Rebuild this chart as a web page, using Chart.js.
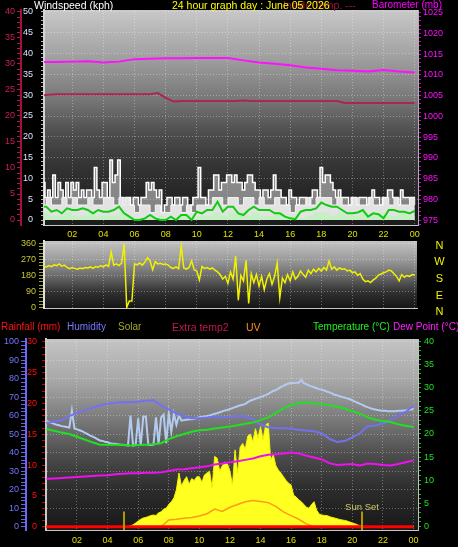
<!DOCTYPE html>
<html>
<head>
<meta charset="utf-8">
<script src="https://cdn.jsdelivr.net/npm/chart.js@4.4.0/dist/chart.umd.min.js"></script>
<style>
html,body{margin:0;padding:0;background:#000;overflow:hidden}
#wrap{position:relative;width:458px;height:547px;background:#000;overflow:hidden;font-family:'Liberation Sans',Arial,sans-serif}
canvas{position:absolute;left:0}
.t{position:absolute;white-space:nowrap;line-height:12px}
.d{position:absolute;left:431px;width:17px;text-align:center;font-size:11px;line-height:12px;color:#f0f000}
</style>
</head>
<body>
<div id="wrap">
<canvas id="c1" width="458" height="240" style="top:0"></canvas>
<canvas id="c2" width="458" height="78" style="top:236px"></canvas>
<canvas id="c3" width="458" height="217" style="top:330px"></canvas>

<div class="t" style="left:34px;top:-1px;font-size:10.5px;color:#ffffff">Windspeed (kph)</div>
<div class="t" style="left:283px;top:-1px;font-size:10.5px;color:#a01838">Inside Temp. ---</div>
<div class="t" style="left:172px;top:-1px;font-size:10.5px;color:#ffff00">24 hour graph day : June 05 2026</div>
<div class="t" style="left:372px;top:-1px;font-size:10px;color:#ff00ff">Barometer (mb)</div>

<div class="d" style="top:238.6px">N</div>
<div class="d" style="top:255.1px">W</div>
<div class="d" style="top:272.1px">S</div>
<div class="d" style="top:289.1px">E</div>
<div class="d" style="top:305.1px">N</div>

<div class="t" style="left:1px;top:320.5px;font-size:10px;color:#ff1010">Rainfall (mm)</div>
<div class="t" style="left:67px;top:320.5px;font-size:10px;color:#7878ff">Humidity</div>
<div class="t" style="left:118px;top:320.5px;font-size:10px;color:#a8a828">Solar</div>
<div class="t" style="left:172px;top:320.5px;font-size:10.5px;color:#c01850">Extra temp2</div>
<div class="t" style="left:246px;top:320.5px;font-size:10.5px;color:#ff8a20">UV</div>
<div class="t" style="left:313px;top:320.5px;font-size:10px;color:#20f020">Temperature (°C)</div>
<div class="t" style="left:393px;top:320.5px;font-size:10px;color:#ff20ff">Dew Point (°C)</div>
</div>

<script>
// ---------------- DATA ----------------
const hourTickLabels = ['02','04','06','08','10','12','14','16','18','20','22','00'];

// Panel 1 – wind (kph) / barometer (mb) / maroon temperature
// gusts, every 10 minutes
const windGust = [
  9,9,5.4,7.2,5.4,10.8,5.4,9,7.2,5.4,
  9,5.4,9,7.2,9,5.4,7.2,5.4,7.2,7.2,
  5.4,12.6,7.2,5.4,9,9,5.4,14.4,9,10.8,
  14.4,5.4,3.6,5.4,5.4,3.6,5.4,5.4,3.6,5.4,
  5.4,9,7.2,9,7.2,5.4,7.2,1.8,3.6,5.4,
  5.4,3.6,5.4,5.4,3.6,5.4,5.4,1.8,3.6,5.4,
  5.4,12.6,5.4,5.4,3.6,7.2,7.2,10.8,10.8,7.2,
  9,9,10.8,10.8,9,10.8,9,9,7.2,9,
  10.8,10.8,9,7.2,7.2,5.4,7.2,7.2,5.4,7.2,
  10.8,7.2,7.2,5.4,5.4,3.6,7.2,5.4,5.4,3.6,
  5.4,5.4,5.4,3.6,5.4,7.2,7.2,5.4,12.6,9,
  10.8,10.8,9,7.2,5.4,7.2,5.4,5.4,5.4,3.6,
  5.4,5.4,3.6,5.4,5.4,5.4,3.6,5.4,7.2,5.4,
  5.4,3.6,5.4,5.4,7.2,7.2,5.4,5.4,3.6,7.2,
  5.4,5.4,5.4,5.4,5.4
];
// wind speed, every 20 minutes
const windSpeed = [
  3.6,5.4,3.6,3.6,5.4,3.6,5.4,3.6,3.6,5.4,
  3.6,3.6,5.4,5.4,3.6,5.4,5.4,3.6,1.8,3.6,
  3.6,1.8,3.6,1.8,1.8,3.6,3.6,1.8,3.6,1.8,
  3.6,3.6,3.6,5.4,
  5.4,3.6,5.4,5.4,3.6,5.4,5.4,3.6,5.4,3.6,
  3.6,5.4,3.6,3.6,1.8,3.6,3.6,5.4,3.6,5.4,
  5.4,5.4,3.6,5.4,3.6,3.6,5.4,3.6,3.6,5.4,
  3.6,3.6,5.4,3.6,5.4,3.6,3.6,5.4,3.6
];
// average wind line (green), every 20 minutes
const windAverage = [
  3.2,3.2,2.0,2.4,1.6,2.8,2.4,2.4,2.8,2.4,
  1.6,2.4,2.0,2.0,2.4,3.2,1.6,0.8,0,0,
  0.4,1.2,0.4,0,0,0.8,0,1.2,1.2,0,
  2.0,1.6,2.4,2.4,4.4,2.0,3.2,3.2,1.6,1.2,
  2.4,3.2,2.4,2.4,2.4,1.6,1.6,0.8,0.4,0.2,
  2.0,2.4,2.4,2.8,4.2,3.6,3.2,3.2,2.4,1.6,
  1.6,1.8,2.4,0.8,1.6,1.4,0.4,2.4,2.4,2.0,
  2.0,1.6,2.2
];
// light green band (lull), every 30 minutes
const windLull = [
  1.8,1.0,1.0,1.8,1.0,1.0,1.8,1.0,1.0,1.0,
  1.8,1.0,0.5,0.5,0.5,1.0,0.5,0.5,1.0,0.5,
  1.0,1.0,1.8,1.0,1.8,1.8,1.0,1.8,1.0,1.0,
  1.8,1.0,1.0,0.5,1.0,1.8,1.8,1.0,1.8,1.0,
  1.0,1.8,1.0,1.8,1.0,1.0,1.8,1.0,1.0
];
// barometer, hourly
const barometer = [
  1013.1,1013.1,1013.2,1013.3,1013.0,1013.2,1013.8,1013.9,1014.0,1014.0,
  1014.1,1014.1,1014.1,1013.5,1013.0,1012.7,1012.3,1011.8,1011.5,1011.1,
  1011.0,1010.8,1011.2,1010.8,1010.6
];
// maroon temperature, every 30 minutes
const insideTemp = [
  23.9,24.1,24.2,24.2,24.2,24.2,24.2,24.2,24.2,24.2,
  24.2,24.2,24.2,24.2,24.2,24.4,23.5,22.8,22.9,22.9,
  22.9,22.9,22.9,22.9,22.9,22.9,23.0,22.9,22.9,22.9,
  22.9,22.9,22.9,22.9,22.9,22.9,22.9,22.9,22.9,22.5,
  22.5,22.5,22.5,22.5,22.5,22.5,22.5,22.5,22.5
];

// Panel 2 – wind direction (degrees), every 10 minutes
const windDirection = [
  225,232,228,236,230,240,235,245,232,238,
  225,218,225,220,215,222,218,225,222,228,
  220,230,226,235,228,240,232,312,238,245,
  236,250,358,0,36,36,245,240,250,238,
  255,280,262,212,258,245,248,242,245,238,
  225,220,228,218,345,222,215,225,262,212,
  205,155,230,220,225,215,222,210,200,185,
  160,175,135,200,160,290,40,180,150,265,
  22,190,140,185,120,175,100,160,190,130,
  175,250,55,165,140,185,150,200,160,175,
  205,185,170,210,190,215,200,220,205,225,
  210,262,215,228,210,222,215,218,205,210,
  195,200,180,190,160,145,150,140,155,165,
  182,188,195,200,210,205,190,175,150,185,
  170,180,175,185,182
];

// Panel 3
const humidity = [ // %, every 30 minutes
  56,56.8,57.5,59.8,61.5,63,64.3,65.5,66.4,67,
  67.2,67.2,67.5,68.1,68.3,65.5,63.4,61.3,59.6,58.6,
  58.6,59,59.5,59.2,59.4,59.8,59.6,58,55.3,53.8,
  53.2,53.3,53,52.4,52,51.6,50.5,47.5,45.8,46.3,
  48.3,50.5,54.3,54.7,55.8,57.9,60,62,65.5
];
const temperature = [ // °C, every 30 minutes
  21.1,20.7,20.3,20.0,19.4,18.8,18.2,17.7,17.7,17.7,
  17.6,17.5,17.6,17.7,17.8,18.0,18.9,19.5,20.0,20.5,
  20.8,20.9,21.2,21.4,21.6,21.9,22.2,22.5,23.0,23.6,
  24.5,25.6,26.2,26.7,26.8,26.6,26.5,26.2,25.9,25.5,
  24.9,24.4,23.6,23.1,22.8,22.6,22.1,21.8,21.5
];
const dewPoint = [ // °C, every 30 minutes
  10.3,10.4,10.5,10.6,10.7,10.8,10.9,11.0,11.1,11.3,
  11.4,11.5,11.5,11.6,11.6,11.7,12.0,12.3,12.4,12.6,
  12.8,13.0,13.4,13.6,13.9,14.1,14.4,14.7,15.2,15.5,
  15.6,15.8,16.0,15.8,15.3,14.9,14.5,13.7,13.3,13.4,
  13.5,13.2,13.6,13.5,13.3,13.2,13.5,13.9,14.3
];
const extraTemp1 = [ // °C (light blue), every 10 minutes
  22.8,22.6,22.4,22.2,22.0,21.9,21.7,21.6,21.5,21.4,
  25.1,21.2,21.0,20.8,20.6,20.3,20.0,19.7,19.5,19.2,
  18.9,18.6,18.5,18.3,18.2,18.0,17.9,17.9,17.8,17.7,
  17.7,17.6,17.5,24.0,17.5,17.6,23.4,17.5,23.8,23.8,
  17.6,17.6,17.7,23.6,17.8,23.6,24.2,18.0,24.4,20.5,
  24.4,22.0,24.0,22.9,23.0,23.1,23.2,23.2,23.3,23.4,
  23.6,23.7,23.8,23.9,24.0,24.2,24.4,24.5,24.7,24.9,
  25.1,25.2,25.4,25.6,25.8,26.0,26.2,26.3,26.5,26.9,
  27.2,27.4,27.6,27.8,28.0,28.2,28.4,28.7,29.0,29.3,
  29.5,29.8,30.2,30.4,30.7,30.9,31.0,31.0,31.1,31.1,
  31.7,31.0,30.8,30.5,30.3,30.1,29.9,29.7,29.6,29.4,
  29.2,29.0,28.8,28.5,28.4,28.2,28.0,27.9,27.7,27.5,
  27.3,27.0,26.8,26.5,26.3,26.0,25.8,25.6,25.4,25.3,
  25.2,25.1,25.0,25.0,24.9,24.9,24.9,24.9,25.0,25.0,
  25.1,25.1,25.2,25.3,25.4
];
const solar = [ // relative scale, every 10 minutes
  0,0,0,0,0,0,0,0,0,0,
  0,0,0,0,0,0,0,0,0,0,
  0,0,0,0,0,0,0,0,0,0,
  0,0,0,0.5,1,2,3,4,4.7,5,
  5.5,6,6.3,6,7.5,8,9.5,10,12,13.5,
  15.5,20,29,22,25,27,23,26,25,27,
  27,24,28,29,30,21,38,37,30,33,
  35,34,30,22.5,41.5,29,43,45,42,49,
  50,46,53,48,54,47,55,56,36,39,
  33,30.6,29,27,25,23.5,22.5,17,16,14.5,
  13.5,12,10.5,10,12,13.5,9,6.8,6.3,6.1,
  6,5.5,5,4.7,4.3,3.9,3.6,3.4,3,2.5,
  2,1.6,1,0.5,0,0,0,0,0,0,
  0,0,0,0,0,0,0,0,0,0,
  0,0,0,0,0
];
const uv = [ // relative scale, every 30 minutes
  0,0,0,0,0,0,0,0,0,0,0,0,0,0,0,0,
  3.6,4.0,4.5,5.0,5.8,7.0,9.5,8.2,10.5,12,13.5,14.2,13.6,13,11,8,6,4,1.5,0,
  0,0,0,0,0,0,0,0,0,0,0,0,0
];
const rainfall = [0,0,0,0,0,0,0,0,0,0,0,0,0,0,0,0,0,0,0,0,0,0,0,0,0]; // mm, hourly
const sunriseHour = 5.09;
const sunsetHour = 20.65;

// ---------------- HELPERS ----------------
Chart.defaults.font.family = "'Liberation Sans', Arial, sans-serif";
Chart.defaults.font.size = 9;
Chart.defaults.animation = false;
Chart.defaults.responsive = false;
Chart.defaults.events = [];
Chart.defaults.plugins.legend.display = false;
Chart.defaults.plugins.tooltip.enabled = false;
Chart.defaults.elements.point.radius = 0;
Chart.defaults.elements.line.tension = 0;

function pts(values, step) { return values.map((v, i) => ({x: i * step, y: v})); }
function box(w, h) {
  return function (s) {
    if (w !== null) s.width = w;
    if (h !== null) s.height = h;
    s.paddingLeft = 0; s.paddingRight = 0; s.paddingTop = 0; s.paddingBottom = 0;
  };
}
const GRID = 'rgba(255,255,255,0.33)';
const NONE = 'rgba(0,0,0,0)';
const isMajor = (v, step) => Math.abs(v / step - Math.round(v / step)) < 1e-6;
const majorGrid = step => ctx => (ctx.tick && isMajor(ctx.tick.value, step) && ctx.tick.value !== 0) ? GRID : NONE;
const majorLabel = step => v => isMajor(v, step) ? String(Math.round(v)) : '';

function xAxis(min, max, show, h, pad) {
  return {
    type: 'linear', position: 'bottom', min: min, max: max,
    ticks: {display: show, stepSize: 2, includeBounds: false, autoSkip: false, maxRotation: 0,
      color: '#e0e000', padding: pad, callback: v => hourTickLabels[Math.round(v / 2) - 1] || ''},
    grid: {color: GRID, drawTicks: false},
    border: {color: '#c8c8c8', width: 1, dash: [1, 2]},
    afterFit: box(null, h)
  };
}
function yAxis(o) {
  return {
    type: 'linear', position: o.pos, weight: o.weight || 0, min: o.min, max: o.max,
    ticks: {stepSize: o.step, includeBounds: false, autoSkip: false, color: o.color, padding: o.pad,
      callback: majorLabel(o.major)},
    grid: {drawOnChartArea: !!o.grid, color: o.grid ? majorGrid(o.major) : NONE,
      tickColor: o.tickColor, tickLength: o.tl},
    border: {color: o.border, width: o.bw, dash: [1, 2]},
    afterFit: box(o.w, null)
  };
}

const areaBg = {
  id: 'areaBg',
  beforeDraw(chart, args, opts) {
    const {ctx, chartArea: a} = chart;
    const g = ctx.createLinearGradient(0, a.top, 0, a.bottom);
    opts.stops.forEach(s => g.addColorStop(s[0], s[1]));
    ctx.save();
    ctx.fillStyle = g;
    ctx.fillRect(a.left, a.top, a.right - a.left, a.bottom - a.top);
    ctx.restore();
  }
};
const sunMarks = {
  id: 'sunMarks',
  afterDatasetsDraw(chart, args, opts) {
    const {ctx, chartArea: a, scales} = chart;
    ctx.save();
    opts.events.forEach(ev => {
      const px = Math.round(scales.x.getPixelForValue(ev.hour));
      ctx.strokeStyle = opts.lineColor;
      ctx.lineWidth = 2;
      ctx.beginPath();
      ctx.moveTo(px, a.bottom);
      ctx.lineTo(px, a.bottom - opts.lineLength);
      ctx.stroke();
      if (ev.label) {
        ctx.fillStyle = opts.textColor;
        ctx.font = opts.font;
        ctx.textAlign = 'center';
        ctx.textBaseline = 'alphabetic';
        ctx.fillText(ev.label, px, a.bottom - opts.lineLength - 2);
      }
    });
    ctx.restore();
  }
};

// ---------------- PANEL 1 ----------------
new Chart(document.getElementById('c1'), {
  type: 'line',
  data: {datasets: [
    {data: pts(windAverage, 1/3), yAxisID: 'yWind', borderColor: '#10cc10', borderWidth: 2, order: 1},
    {data: pts(windLull, 0.5), yAxisID: 'yWind', borderWidth: 0, borderColor: NONE, backgroundColor: '#c4f0c4', fill: 'origin', stepped: true, order: 2},
    {data: pts(windSpeed, 1/3), yAxisID: 'yWind', borderWidth: 1, borderColor: '#f4f4f4', backgroundColor: 'rgba(236,236,236,0.92)', fill: 'origin', stepped: true, order: 3},
    {data: pts(windGust, 1/6), yAxisID: 'yWind', borderWidth: 1.5, borderColor: '#ffffff', backgroundColor: 'rgba(215,215,215,0.55)', fill: 'origin', stepped: 'middle', order: 4},
    {data: pts(barometer, 1), yAxisID: 'yBaro', borderWidth: 2, borderColor: '#ff10ff', order: 5},
    {data: pts(insideTemp, 0.5), yAxisID: 'yIn', borderWidth: 2, borderColor: '#a82850', order: 6}
  ]},
  options: {
    layout: {padding: {top: 10, left: 0, right: 0, bottom: 0}},
    scales: {
      x: xAxis(0.186, 24.21, true, 15, 4),
      yIn: yAxis({pos: 'left', weight: 10, min: -0.96, max: 40.38, step: 1, major: 5, color: '#c8204e', pad: 2,
        tickColor: '#b01848', tl: 4, border: '#a01040', bw: 2, w: 21}),
      yWind: yAxis({pos: 'left', weight: 0, min: -1.2, max: 50.48, step: 1, major: 5, color: '#d8e4ff', pad: 8,
        tickColor: 'rgba(230,230,230,0.8)', tl: 3, border: '#d4d4d4', bw: 2, w: 23, grid: true}),
      yBaro: yAxis({pos: 'right', min: 973.8, max: 1025.65, step: 1, major: 5, color: '#ff10ff', pad: 2,
        tickColor: '#d000d0', tl: 3, border: '#b0b0b0', bw: 1, w: 40})
    },
    plugins: {areaBg: {stops: [[0, '#c8c8c8'], [0.21, '#a2a2a2'], [0.42, '#767676'], [0.56, '#505050'], [0.72, '#343434'], [0.88, '#232323'], [1, '#1c1c1c']]}}
  },
  plugins: [areaBg]
});

// ---------------- PANEL 2 ----------------
new Chart(document.getElementById('c2'), {
  type: 'line',
  data: {datasets: [
    {data: pts(windDirection, 1/6), yAxisID: 'yDir', borderWidth: 1.5, borderColor: '#f0f000'}
  ]},
  options: {
    layout: {padding: {top: 5, left: 0, right: 41, bottom: 5.5}},
    scales: {
      x: xAxis(0.186, 24.147, false, 0, 0),
      yDir: yAxis({pos: 'left', min: -6, max: 374, step: 18, major: 90, color: '#c8c832', pad: 3,
        tickColor: '#a0a020', tl: 5, border: '#e0e0e0', bw: 2, w: 44, grid: true})
    },
    plugins: {areaBg: {stops: [[0, '#c4c4c4'], [0.28, '#9a9a9a'], [0.52, '#6a6a6a'], [0.76, '#303030'], [1, '#141414']]}}
  },
  plugins: [areaBg]
});

// ---------------- PANEL 3 ----------------
new Chart(document.getElementById('c3'), {
  type: 'line',
  data: {datasets: [
    {data: pts(rainfall, 1), yAxisID: 'yRain', borderWidth: 3, borderColor: '#ff0000', order: 1},
    {data: pts(dewPoint, 0.5), yAxisID: 'yTemp', borderWidth: 2, borderColor: '#f010f0', order: 2},
    {data: pts(temperature, 0.5), yAxisID: 'yTemp', borderWidth: 2, borderColor: '#20e020', order: 3},
    {data: pts(humidity, 0.5), yAxisID: 'yHum', borderWidth: 2, borderColor: '#7272f0', order: 4},
    {data: pts(extraTemp1, 1/6), yAxisID: 'yTemp', borderWidth: 2, borderColor: '#b4cbf0', order: 5},
    {data: pts(uv, 0.5), yAxisID: 'ySolar', borderWidth: 1.5, borderColor: '#ff9a18', order: 6},
    {data: pts(solar, 1/6), yAxisID: 'ySolar', borderWidth: 1, borderColor: '#f4f400', backgroundColor: '#ffff20', fill: 'origin', order: 7}
  ]},
  options: {
    layout: {padding: {top: 9, left: 0, right: 0, bottom: 0}},
    scales: {
      x: xAxis(-0.026, 24.295, true, 17, 5),
      yHum: yAxis({pos: 'left', weight: 10, min: -1.8, max: 101.46, step: 2, major: 10, color: '#7474ff', pad: 2,
        tickColor: '#6464e8', tl: 5, border: '#6a6af0', bw: 2, w: 26, grid: true}),
      yRain: yAxis({pos: 'left', weight: 0, min: -0.535, max: 30.44, step: 1, major: 5, color: '#ff1010', pad: 5,
        tickColor: '#d00000', tl: 4, border: '#c8c8c8', bw: 2, w: 20}),
      yTemp: yAxis({pos: 'right', min: -0.76, max: 40.54, step: 1, major: 5, color: '#20e020', pad: 3,
        tickColor: '#10c010', tl: 3, border: '#c0c0c0', bw: 1, w: 40}),
      ySolar: {type: 'linear', display: false, min: -1.8, max: 101.46}
    },
    plugins: {
      areaBg: {stops: [[0, '#c4c4c4'], [0.215, '#a8a8a8'], [0.42, '#7a7a7a'], [0.61, '#4c4c4c'], [0.79, '#2c2c2c'], [1, '#181818']]},
      sunMarks: {events: [{hour: sunriseHour, label: ''}, {hour: sunsetHour, label: 'Sun Set'}],
        lineColor: '#a89a00', textColor: '#d0c868', lineLength: 18.5, font: "9.5px 'Liberation Sans', Arial, sans-serif"}
    }
  },
  plugins: [areaBg, sunMarks]
});
</script>
</body>
</html>
